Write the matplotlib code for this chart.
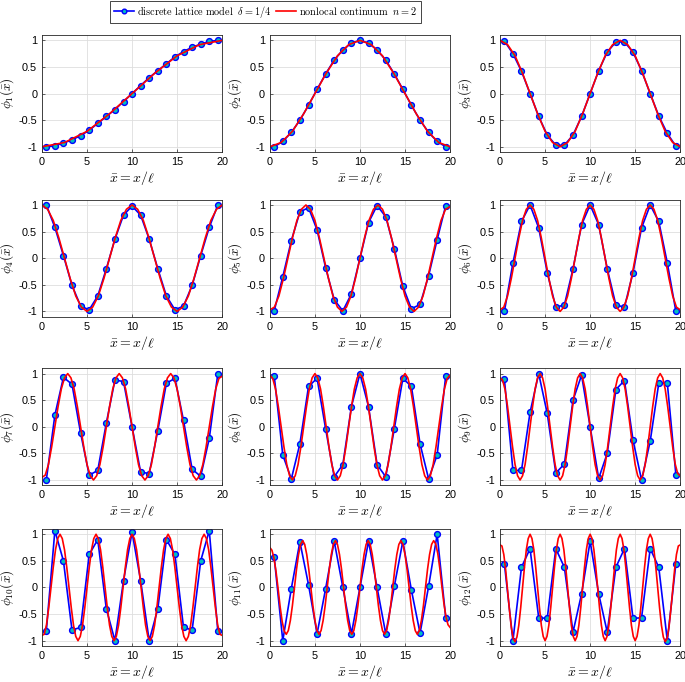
import numpy as np
import matplotlib
matplotlib.use('Agg')
import matplotlib.pyplot as plt

# lattice positions (21 cells over 20)
x_lat = [0.48, 1.43, 2.38, 3.33, 4.29, 5.24, 6.19, 7.14, 8.10, 9.05, 10.0,
         10.95, 11.90, 12.86, 13.81, 14.76, 15.71, 16.67, 17.62, 18.57, 19.52]

# discrete lattice model, values read per lattice point
phi1 = [-1, -.98, -.93, -.87, -.79, -.69, -.56, -.43, -.3, -.15, 0, .15, .3, .43, .56, .69, .79, .87, .93, .98, 1]
phi2 = [-1, -.9, -.73, -.5, -.22, .08, .37, .63, .82, .95, 1, .95, .82, .63, .37, .08, -.22, -.5, -.73, -.9, -1]
phi3 = [.99, .75, .42, 0, -.43, -.78, -.97, -.97, -.78, -.43, 0, .43, .78, .97, .97, .78, .43, 0, -.42, -.75, -.99]
phi4 = [1, .58, .05, -.51, -.9, -.97, -.71, -.2, .36, .81, .98, .81, .36, -.2, -.71, -.97, -.9, -.51, .05, .58, 1]
phi5 = [-.99, -.35, .33, .87, .95, .53, -.18, -.78, -.99, -.67, 0, .67, .99, .78, .18, -.53, -.95, -.87, -.33, .35, .99]
phi6 = [-1, -.09, .69, 1, .57, -.27, -.92, -.88, -.2, .63, 1, .63, -.2, -.88, -.92, -.27, .57, 1, .69, -.09, -1]
phi7 = [-1, .22, .93, .8, -.12, -.91, -.82, .07, .88, .85, 0, -.85, -.88, -.07, .82, .91, .12, -.8, -.93, -.22, 1]
phi8 = [.96, -.53, -.98, -.32, .76, .91, -.04, -.94, -.71, .38, 1, .38, -.71, -.94, -.04, .91, .76, -.32, -.98, -.53, .96]
phi9 = [.9, -.82, -.82, .27, 1, .25, -.87, -.7, .5, .97, 0, -.97, -.5, .7, .87, -.25, -1, -.27, .82, .82, -.9]
phi10 = [-.82, 1.07, .5, -.8, -.75, .62, .9, -.4, -1, .13, 1.04, .13, -1, -.4, .9, .62, -.75, -.8, .5, 1.07, -.82]
phi11 = [.57, -1, -.02, .86, .05, -.87, -.02, .87, 0, -.87, 0, .87, 0, -.87, .02, .87, -.05, -.86, .02, 1, -.57]
phi12 = [.45, -1, .38, .73, -.57, -.58, .73, .38, -.84, -.12, .87, -.12, -.84, .38, .73, -.58, -.57, .73, .38, -1, .45]

# nonlocal continuum, values read along 0..20 (evenly spaced samples)
red1 = [-1, -.92, -.71, -.38, 0, .38, .71, .92, 1]
red2 = [-1, -.92, -.71, -.38, 0, .38, .71, .92, 1, .92, .71, .38, 0, -.38, -.71, -.92,
        -1]
red3 = [1, .92, .71, .38, 0, -.38, -.71, -.92, -1, -.92, -.71, -.38, 0, .38, .71, .92,
        1, .92, .71, .38, 0, -.38, -.71, -.92, -1]
red4 = [1, .92, .71, .38, 0, -.38, -.71, -.92, -1, -.92, -.71, -.38, 0, .38, .71, .92,
        1, .92, .71, .38, 0, -.38, -.71, -.92, -1, -.92, -.71, -.38, 0, .38, .71, .92,
        1]
red5 = [-.97, -.92, -.71, -.38, 0, .38, .71, .92, 1, .92, .71, .38, 0, -.38, -.71, -.92,
        -1, -.92, -.71, -.38, 0, .38, .71, .92, 1, .92, .71, .38, 0, -.38, -.71, -.92,
        -1, -.92, -.71, -.38, 0, .38, .71, .92, .97]
red6 = [-.97, -.92, -.71, -.38, 0, .38, .71, .92, 1, .92, .71, .38, 0, -.38, -.71, -.92,
        -1, -.92, -.71, -.38, 0, .38, .71, .92, 1, .92, .71, .38, 0, -.38, -.71, -.92,
        -1, -.92, -.71, -.38, 0, .38, .71, .92, 1, .92, .71, .38, 0, -.38, -.71, -.92,
        -.97]
red7 = [-.95, -.91, -.71, -.38, 0, .38, .71, .92, 1, .92, .71, .38, 0, -.38, -.71, -.92,
        -1, -.92, -.71, -.38, 0, .38, .71, .92, 1, .92, .71, .38, 0, -.38, -.71, -.92,
        -1, -.92, -.71, -.38, 0, .38, .71, .92, 1, .92, .71, .38, 0, -.38, -.71, -.92,
        -1, -.92, -.71, -.38, 0, .38, .71, .91, .95]
red8 = [.97, .91, .71, .38, 0, -.38, -.71, -.92, -1, -.92, -.71, -.38, 0, .38, .71, .92,
        1, .92, .71, .38, 0, -.38, -.71, -.92, -1, -.92, -.71, -.38, 0, .38, .71, .92,
        1, .92, .71, .38, 0, -.38, -.71, -.92, -1, -.92, -.71, -.38, 0, .38, .71, .92,
        1, .92, .71, .38, 0, -.38, -.71, -.92, -1, -.92, -.71, -.38, 0, .38, .71, .91,
        .97]
red9 = [.92, .88, .70, .38, 0, -.38, -.71, -.92, -1, -.92, -.71, -.38, 0, .38, .71, .92,
        1, .92, .71, .38, 0, -.38, -.71, -.92, -1, -.92, -.71, -.38, 0, .38, .71, .92,
        1, .92, .71, .38, 0, -.38, -.71, -.92, -1, -.92, -.71, -.38, 0, .38, .71, .92,
        1, .92, .71, .38, 0, -.38, -.71, -.92, -1, -.92, -.71, -.38, 0, .38, .71, .92,
        1, .92, .71, .38, 0, -.38, -.70, -.88, -.92]
red10 = [-.9, -.88, -.70, -.38, 0, .38, .71, .92, 1, .92, .71, .38, 0, -.38, -.71, -.92,
         -1, -.92, -.71, -.38, 0, .38, .71, .92, 1, .92, .71, .38, 0, -.38, -.71, -.92,
         -1, -.92, -.71, -.38, 0, .38, .71, .92, 1, .92, .71, .38, 0, -.38, -.71, -.92,
         -1, -.92, -.71, -.38, 0, .38, .71, .92, 1, .92, .71, .38, 0, -.38, -.71, -.92,
         -1, -.92, -.71, -.38, 0, .38, .71, .92, 1, .92, .71, .38, 0, -.38, -.70, -.88,
         -.9]
red11 = [.75, .70, .55, .30, -.02, -.36, -.64, -.82, -.88, -.81, -.62, -.34, 0, .34, .62, .81,
         .88, .81, .62, .34, 0, -.34, -.62, -.81, -.88, -.81, -.62, -.34, 0, .34, .62, .81,
         .88, .81, .62, .34, 0, -.34, -.62, -.81, -.88, -.81, -.62, -.34, 0, .34, .62, .81,
         .88, .81, .62, .34, 0, -.34, -.62, -.81, -.88, -.81, -.62, -.34, 0, .34, .62, .81,
         .88, .81, .62, .34, 0, -.34, -.62, -.81, -.88, -.81, -.62, -.34, 0, .34, .62, .81,
         .88, .82, .64, .36, .02, -.30, -.55, -.70, -.75]
red12 = [.8, .78, .62, .33, -.05, -.42, -.75, -.96, -1.02, -.93, -.71, -.38, 0, .38, .71, .92,
         1, .92, .71, .38, 0, -.38, -.71, -.92, -1, -.92, -.71, -.38, 0, .38, .71, .92,
         1, .92, .71, .38, 0, -.38, -.71, -.92, -1, -.92, -.71, -.38, 0, .38, .71, .92,
         1, .92, .71, .38, 0, -.38, -.71, -.92, -1, -.92, -.71, -.38, 0, .38, .71, .92,
         1, .92, .71, .38, 0, -.38, -.71, -.92, -1, -.92, -.71, -.38, 0, .38, .71, .92,
         1, .92, .71, .38, 0, -.38, -.71, -.93, -1.02, -.96, -.75, -.42, -.05, .33, .62, .78,
         .8]

blue = [phi1, phi2, phi3, phi4, phi5, phi6, phi7, phi8, phi9, phi10, phi11, phi12]
red = [red1, red2, red3, red4, red5, red6, red7, red8, red9, red10, red11, red12]

plt.rcParams['mathtext.fontset'] = 'cm'
plt.rcParams['font.family'] = 'Liberation Sans'
plt.rcParams['axes.unicode_minus'] = False

fig = plt.figure(figsize=(6.85, 6.82), dpi=100)

lefts = [0.0613, 0.394, 0.730]
bottoms = [0.777, 0.5356, 0.2884, 0.0528]
w, h = 0.263, 0.1716

for k in range(12):
    r, c = divmod(k, 3)
    ax = fig.add_axes([lefts[c], bottoms[r], w, h])
    lb, = ax.plot(x_lat, blue[k], '-o', color='b', mfc='c', mec='b', ms=4.2, mew=1.0, lw=1.2)
    xr = np.linspace(0, 20, len(red[k]))
    lr, = ax.plot(xr, red[k], '-', color='r', lw=1.2)
    ax.set_xlim(0, 20)
    ax.set_ylim(-1.1, 1.1)
    ax.set_xticks([0, 5, 10, 15, 20])
    ax.set_yticks([-1, -0.5, 0, 0.5, 1])
    ax.set_yticklabels(['-1', '-0.5', '0', '0.5', '1'])
    ax.grid(True, color='0.87', lw=0.6)
    ax.set_axisbelow(True)
    ax.tick_params(direction='in', length=2.5, width=0.5, labelsize=7.8, color='0.15', pad=3.5)
    for s in ax.spines.values():
        s.set_color('0.15')
        s.set_linewidth(0.6)
    ax.set_xlabel(r'$\bar{x} = x/\ell$', fontsize=10, labelpad=1.5)
    ax.set_ylabel(r'$\phi_{%d}(\bar{x})$' % (k + 1), fontsize=9.5, labelpad=1.5)

leg = fig.legend([lb, lr],
                 [r'$\mathrm{discrete\ lattice\ model}\ \ \delta = 1/4$',
                  r'$\mathrm{nonlocal\ continuum}\ \ n = 2$'],
                 loc='upper center', bbox_to_anchor=(0.3876, 0.999), ncol=2,
                 fontsize=7.4, fancybox=False, edgecolor='0.15', framealpha=1,
                 handlelength=2.0, handletextpad=0.3, columnspacing=0.4,
                 borderpad=0.3, borderaxespad=0, numpoints=1, markerscale=0.8)
leg.get_frame().set_linewidth(0.6)

fig.savefig('out.png', dpi=100)
